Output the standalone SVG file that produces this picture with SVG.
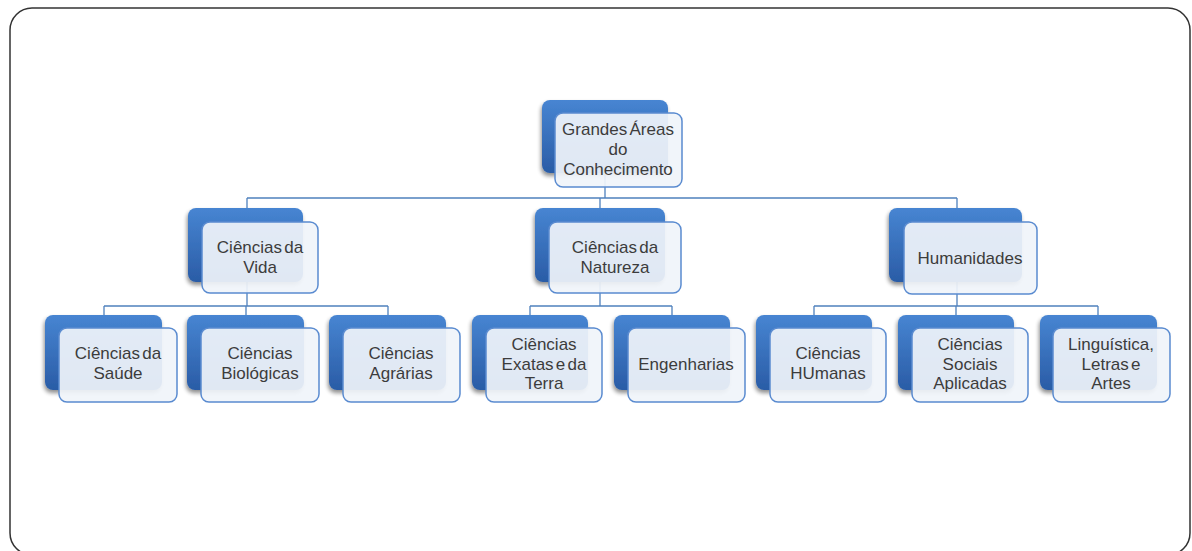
<svg xmlns="http://www.w3.org/2000/svg" width="1192" height="551" viewBox="0 0 1192 551">
<defs>
<linearGradient id="bg" x1="0" y1="0" x2="0" y2="1">
<stop offset="0" stop-color="#4785d2"/>
<stop offset="1" stop-color="#2a5ca6"/>
</linearGradient>
<filter id="sh" x="-20%" y="-20%" width="140%" height="150%">
<feGaussianBlur in="SourceAlpha" stdDeviation="2"/>
<feOffset dx="-1" dy="3"/>
<feComponentTransfer><feFuncA type="linear" slope="0.45"/></feComponentTransfer>
<feMerge><feMergeNode/><feMergeNode in="SourceGraphic"/></feMerge>
</filter>
<style>
.b{fill:url(#bg);filter:url(#sh)}
.w{fill:#f0f4fa;fill-opacity:0.92;stroke:#5a8bd0;stroke-width:1.5}
.t{font-family:"Liberation Sans",Arial,sans-serif;font-size:17px;fill:#3c3c3c;text-anchor:middle;word-spacing:-2.5px}
.c{fill:none;stroke:#4f81bd;stroke-width:1.3}
</style>
</defs>
<rect x="0" y="0" width="1192" height="551" fill="#fff"/>
<rect x="10" y="8" width="1180" height="547" rx="22" fill="#fff" stroke="#333" stroke-width="1.5"/>
<g id="connectors">
<path class="c" d="M605 173V198M247 198H957M247 198V208M600 198V208M957 198V208"/>
<path class="c" d="M247 282V306M104 306H388M104 306V315M246 306V315M388 306V315"/>
<path class="c" d="M600 282V306M530 306H672M530 306V315M672 306V315"/>
<path class="c" d="M957 282V306M814 306H1098M814 306V315M956 306V315M1098 306V315"/>
</g>
<g id="root">
<rect class="b" x="542" y="100" width="126" height="73" rx="8"/>
<rect class="w" x="555" y="113" width="127" height="74" rx="8"/>
<text class="t" x="618" y="135">Grandes Áreas</text>
<text class="t" x="618" y="155">do</text>
<text class="t" x="618" y="175">Conhecimento</text>
</g>
<g id="vida">
<rect class="b" x="188" y="208" width="115" height="74" rx="8"/>
<rect class="w" x="202" y="222" width="116" height="71" rx="8"/>
<text class="t" x="260" y="253">Ciências da</text>
<text class="t" x="260" y="273">Vida</text>
</g>
<g id="natureza">
<rect class="b" x="535" y="208" width="130" height="74" rx="8"/>
<rect class="w" x="549" y="222" width="132" height="71" rx="8"/>
<text class="t" x="615" y="253">Ciências da</text>
<text class="t" x="615" y="273">Natureza</text>
</g>
<g id="humanidades">
<rect class="b" x="889" y="208" width="133" height="74" rx="8"/>
<rect class="w" x="904" y="222" width="133" height="72" rx="8"/>
<text class="t" x="970" y="264">Humanidades</text>
</g>
<g id="saude">
<rect class="b" x="45" y="315" width="117" height="75" rx="8"/>
<rect class="w" x="59" y="328" width="118" height="74" rx="8"/>
<text class="t" x="118" y="359">Ciências da</text>
<text class="t" x="118" y="379">Saúde</text>
</g>
<g id="biologicas">
<rect class="b" x="187" y="315" width="117" height="75" rx="8"/>
<rect class="w" x="201" y="328" width="118" height="74" rx="8"/>
<text class="t" x="260" y="359">Ciências</text>
<text class="t" x="260" y="379">Biológicas</text>
</g>
<g id="agrarias">
<rect class="b" x="329" y="315" width="117" height="75" rx="8"/>
<rect class="w" x="343" y="328" width="117" height="74" rx="8"/>
<text class="t" x="401" y="359">Ciências</text>
<text class="t" x="401" y="379">Agrárias</text>
</g>
<g id="exatas">
<rect class="b" x="472" y="315" width="116" height="75" rx="8"/>
<rect class="w" x="486" y="328" width="116" height="74" rx="8"/>
<text class="t" x="544" y="350">Ciências</text>
<text class="t" x="544" y="370">Exatas e da</text>
<text class="t" x="544" y="389">Terra</text>
</g>
<g id="engenharias">
<rect class="b" x="614" y="315" width="116" height="75" rx="8"/>
<rect class="w" x="628" y="328" width="117" height="74" rx="8"/>
<text class="t" x="686" y="370">Engenharias</text>
</g>
<g id="humanas">
<rect class="b" x="756" y="315" width="116" height="75" rx="8"/>
<rect class="w" x="770" y="328" width="116" height="74" rx="8"/>
<text class="t" x="828" y="359">Ciências</text>
<text class="t" x="828" y="379">HUmanas</text>
</g>
<g id="sociais">
<rect class="b" x="898" y="315" width="116" height="75" rx="8"/>
<rect class="w" x="912" y="328" width="116" height="74" rx="8"/>
<text class="t" x="970" y="350">Ciências</text>
<text class="t" x="970" y="370">Sociais</text>
<text class="t" x="970" y="389">Aplicadas</text>
</g>
<g id="linguistica">
<rect class="b" x="1040" y="315" width="117" height="75" rx="8"/>
<rect class="w" x="1053" y="328" width="117" height="74" rx="8"/>
<text class="t" x="1111" y="350">Linguística,</text>
<text class="t" x="1111" y="370">Letras e</text>
<text class="t" x="1111" y="389">Artes</text>
</g>
</svg>
